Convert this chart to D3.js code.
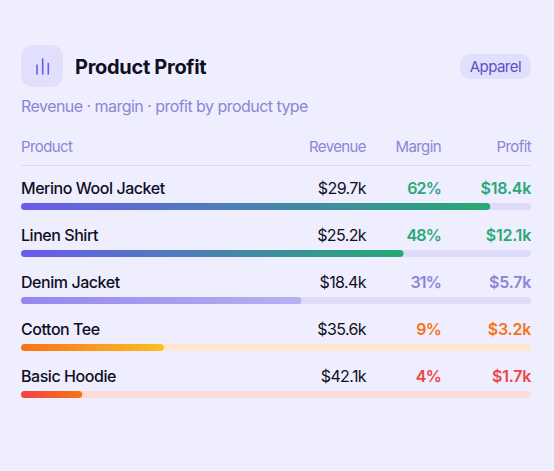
<!DOCTYPE html>
<html>
<head>
<meta charset="utf-8">
<script src="https://cdn.jsdelivr.net/npm/d3@7"></script>
<style>
    html, body { margin: 0; padding: 0; background: #efeeff; }
    svg { display: block; font-family: Inter, sans-serif; }
</style>
</head>
<body>
<div id="chart"></div>
<script>
// values
var products = ['Merino Wool Jacket', 'Linen Shirt', 'Denim Jacket', 'Cotton Tee', 'Basic Hoodie'];
var revenue = [29.7, 25.2, 18.4, 35.6, 42.1];
var margin = [62, 48, 31, 9, 4];
var profit = [18.4, 12.1, 5.7, 3.2, 1.7];
var barFill = [92, 75, 55, 28, 12]; // bar length in % of the track
var headers = ['Product', 'Revenue', 'Margin', 'Profit'];

// one colour set per row: text, track, gradient start and end
var textColors = ['#2aa876', '#2aa876', '#8b85d6', '#f97316', '#ef4444'];
var trackColors = ['#dedbfa', '#dedbfa', '#dedbfa', '#ffe6d3', '#ffdcd9'];
var gradFrom = ['#6b5bec', '#6b5bec', '#9587ee', '#f97316', '#ef4444'];
var gradTo = ['#27a974', '#27a974', '#b8b1f0', '#fbbf24', '#f97316'];

var width = 554, height = 471;
var left = 21, right = 531;

var svg = d3.select('#chart').append('svg')
    .attr('width', width)
    .attr('height', height);

var x = d3.scaleLinear().domain([0, 100]).range([left, right]);
var y = d3.scaleBand().domain(products).range([166, 401]);

var defs = svg.append('defs');
defs.selectAll('linearGradient')
    .data(products)
    .enter()
    .append('linearGradient')
    .attr('id', function(d, i) { return 'grad' + i; })
    .each(function(d, i) {
        d3.select(this).append('stop').attr('offset', '0%').attr('stop-color', gradFrom[i]);
        d3.select(this).append('stop').attr('offset', '100%').attr('stop-color', gradTo[i]);
    });

// header
svg.append('rect')
    .attr('x', 21).attr('y', 45)
    .attr('width', 42).attr('height', 42)
    .attr('rx', 12)
    .attr('fill', '#e2dffd');

// little bar icon
var icon = [[37, 65, 74], [42.7, 59, 74], [48.3, 63.5, 74]];
svg.selectAll('.icon')
    .data(icon)
    .enter()
    .append('line')
    .attr('class', 'icon')
    .attr('x1', function(d) { return d[0]; })
    .attr('x2', function(d) { return d[0]; })
    .attr('y1', function(d) { return d[1]; })
    .attr('y2', function(d) { return d[2]; })
    .attr('stroke', '#6b5bec')
    .attr('stroke-width', 1.6)
    .attr('stroke-linecap', 'round');

svg.append('text')
    .attr('x', 75).attr('y', 74)
    .attr('font-size', 20).attr('font-weight', 700)
    .attr('letter-spacing', -0.3)
    .attr('fill', '#0f0f23')
    .text('Product Profit');

svg.append('rect')
    .attr('x', 460).attr('y', 54)
    .attr('width', 71).attr('height', 25)
    .attr('rx', 10)
    .attr('fill', '#e2dffd');

svg.append('text')
    .attr('x', 521).attr('y', 72)
    .attr('text-anchor', 'end')
    .attr('font-size', 15)
    .attr('letter-spacing', -0.55)
    .attr('fill', '#5b4fcf')
    .text('Apparel');

svg.append('text')
    .attr('x', 21).attr('y', 112)
    .attr('font-size', 16)
    .attr('letter-spacing', -0.54)
    .attr('fill', '#8b85d6')
    .text('Revenue · margin · profit by product type');

// column heads
var colX = [21, 366, 441, 531];
svg.selectAll('.head')
    .data(headers)
    .enter()
    .append('text')
    .attr('class', 'head')
    .attr('x', function(d, i) { return colX[i]; })
    .attr('y', 152)
    .attr('text-anchor', function(d, i) { return i == 0 ? 'start' : 'end'; })
    .attr('font-size', 15)
    .attr('letter-spacing', -0.6)
    .attr('fill', '#8b85d6')
    .text(function(d) { return d; });

svg.append('line')
    .attr('x1', left).attr('x2', right)
    .attr('y1', 165.5).attr('y2', 165.5)
    .attr('stroke', '#dbd8f6');

// rows
var rows = svg.selectAll('.row')
    .data(products)
    .enter()
    .append('g')
    .attr('class', 'row')
    .attr('transform', function(d) { return 'translate(0,' + y(d) + ')'; });

rows.append('text')
    .attr('x', colX[0]).attr('y', 28)
    .attr('font-size', 16).attr('font-weight', 500)
    .attr('letter-spacing', -0.45)
    .attr('fill', '#0f0f23')
    .text(function(d) { return d; });

rows.append('text')
    .attr('x', colX[1]).attr('y', 28)
    .attr('text-anchor', 'end')
    .attr('font-size', 16).attr('font-weight', 400)
    .attr('letter-spacing', -0.6)
    .attr('fill', '#0f0f23')
    .text(function(d, i) { return '$' + revenue[i].toFixed(1) + 'k'; });

rows.append('text')
    .attr('x', colX[2]).attr('y', 28)
    .attr('text-anchor', 'end')
    .attr('font-size', 16).attr('font-weight', 600)
    .attr('letter-spacing', -0.8)
    .attr('fill', function(d, i) { return textColors[i]; })
    .text(function(d, i) { return margin[i] + '%'; });

rows.append('text')
    .attr('x', colX[3]).attr('y', 28)
    .attr('text-anchor', 'end')
    .attr('font-size', 16).attr('font-weight', 600)
    .attr('letter-spacing', -0.25)
    .attr('fill', function(d, i) { return textColors[i]; })
    .text(function(d, i) { return '$' + profit[i].toFixed(1) + 'k'; });

rows.append('rect')
    .attr('x', x(0)).attr('y', 37)
    .attr('width', x(100) - x(0)).attr('height', 7)
    .attr('rx', 3.5)
    .attr('fill', function(d, i) { return trackColors[i]; });

rows.append('rect')
    .attr('x', x(0)).attr('y', 37)
    .attr('width', function(d, i) { return x(barFill[i]) - x(0); })
    .attr('height', 7)
    .attr('rx', 3.5)
    .attr('fill', function(d, i) { return 'url(#grad' + i + ')'; });
</script>
</body>
</html>
